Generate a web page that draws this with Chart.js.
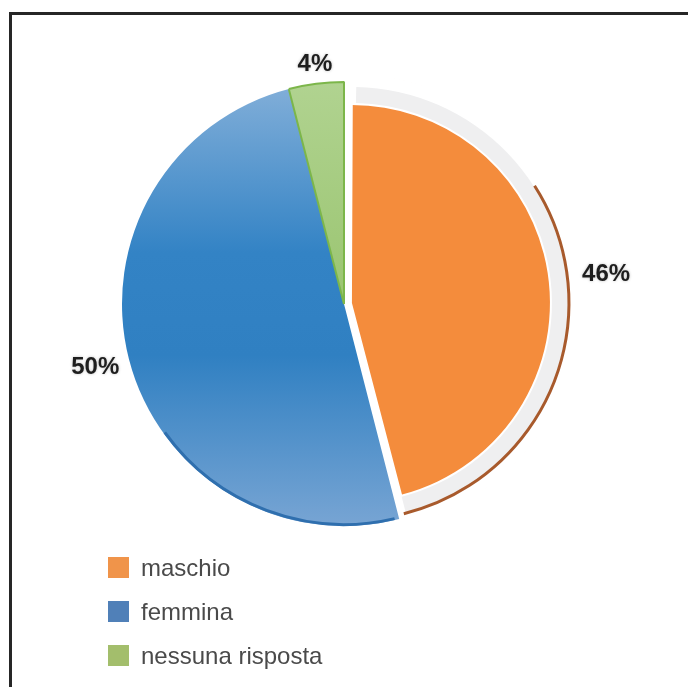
<!DOCTYPE html>
<html>
<head>
<meta charset="utf-8">
<script src="https://cdn.jsdelivr.net/npm/chart.js@4/dist/chart.umd.min.js"></script>
<style>
  body { margin: 0; background: #fff; width: 688px; height: 687px; overflow: hidden; position: relative; }
  #frame { position: absolute; left: 9px; top: 12px; width: 720px; height: 720px; border: 3px solid #262626; }
  #pie { position: absolute; left: 0; top: 0; }
  #legend { position: absolute; left: 108px; top: 557px; font-family: "Liberation Sans", Arial, sans-serif; font-size: 24px; color: #4a4a4a; }
  .item { display: flex; align-items: center; height: 21px; margin-bottom: 23px; }
  .swatch { width: 21px; height: 21px; margin-right: 12px; }
</style>
</head>
<body>
<div id="frame"></div>
<canvas id="pie" width="688" height="560"></canvas>
<div id="legend"></div>
<script>
const labels = ['maschio', 'femmina', 'nessuna risposta'];
const shares = [46, 50, 4];
const valueLabels = ['46%', '50%', '4%'];

const legendColors = ['#f0944a', '#5080b8', '#a3be6c'];

// per-slice fill: flat orange, shaded blue and green
function sliceFill(c) {
    const area = c.chart.chartArea;
    const i = c.dataIndex;
    if (i === 0) return '#f48c3c';
    if (!area) return i === 1 ? '#3a7fc0' : '#a8cd82';
    const ctx = c.chart.ctx;
    if (i === 1) {
        const g = ctx.createLinearGradient(0, area.top, 0, area.bottom);
        g.addColorStop(0, '#93b8dd');
        g.addColorStop(0.4, '#3383c5');
        g.addColorStop(0.6, '#3080c2');
        g.addColorStop(1, '#86acd7');
        return g;
    }
    const g = ctx.createLinearGradient(0, area.top, 0, area.top + 240);
    g.addColorStop(0, '#b4d595');
    g.addColorStop(1, '#9cc673');
    return g;
}

// rim around the pulled-out slice plus the percentage labels
const pieDecor = {
    id: 'pieDecor',
    afterDatasetsDraw(chart) {
        const ctx = chart.ctx;
        const arcs = chart.getDatasetMeta(0).data;

        // where Chart.js actually puts an offset arc
        function shifted(arc) {
            const off = (arc.options.offset || 0) / 4;
            const mid = (arc.startAngle + arc.endAngle) / 2;
            const fix = 1 - Math.sin(Math.min(Math.PI, arc.circumference));
            return {
                cx: arc.x + Math.cos(mid) * off,
                cy: arc.y + Math.sin(mid) * off,
                r: arc.outerRadius + off * fix,
                mid: mid
            };
        }

        // orange: light band with a brown outer lip
        const o = arcs[0];
        const s = shifted(o);
        const inner = s.r - 30;
        ctx.save();
        ctx.beginPath();
        ctx.arc(s.cx, s.cy, s.r + 1, o.startAngle, o.endAngle);
        ctx.arc(s.cx, s.cy, inner, o.endAngle, o.startAngle, true);
        ctx.closePath();
        ctx.fillStyle = '#ffffff';
        ctx.fill();

        ctx.beginPath();
        ctx.arc(s.cx, s.cy, inner + 18, o.startAngle + 0.02, o.endAngle);
        ctx.arc(s.cx, s.cy, inner + 2, o.endAngle, o.startAngle + 0.02, true);
        ctx.closePath();
        ctx.fillStyle = '#efeff0';
        ctx.fill();

        ctx.beginPath();
        ctx.arc(s.cx, s.cy, inner + 19, o.startAngle + 1.0, o.endAngle + 0.01);
        ctx.lineWidth = 3;
        ctx.strokeStyle = '#a85a2c';
        ctx.stroke();

        // darker lower edge on the blue slice
        const b = arcs[1];
        ctx.beginPath();
        ctx.arc(b.x, b.y, b.outerRadius - 1.5, b.startAngle + 0.02, b.startAngle + 1.2);
        ctx.lineWidth = 3;
        ctx.strokeStyle = '#2f6fae';
        ctx.stroke();
        ctx.restore();

        // percentage labels just outside each slice
        ctx.save();
        ctx.font = 'bold 24px "Liberation Sans", Arial, sans-serif';
        ctx.fillStyle = '#1e1e1e';
        ctx.shadowColor = 'rgba(0,0,0,0.25)';
        ctx.shadowBlur = 3;
        arcs.forEach((arc, i) => {
            const p = shifted(arc);
            const rr = arc.outerRadius + 10;
            const cos = Math.cos(p.mid), sin = Math.sin(p.mid);
            const x = p.cx + cos * rr, y = p.cy + sin * rr;
            if (Math.abs(cos) < 0.3) {
                ctx.textAlign = 'center';
                ctx.textBaseline = sin < 0 ? 'bottom' : 'top';
                ctx.fillText(valueLabels[i], x, y + 3);
            } else {
                ctx.textAlign = cos > 0 ? 'left' : 'right';
                ctx.textBaseline = 'middle';
                ctx.fillText(valueLabels[i], x, y + (cos > 0 ? 0 : 6));
            }
        });
        ctx.restore();
    }
};

const chart = new Chart(document.getElementById('pie'), {
    type: 'pie',
    data: {
        labels: labels,
        datasets: [{
            data: shares,
            backgroundColor: sliceFill,
            borderColor: ['#ffffff', '#3a7fc0', '#7cb64a'],
            borderWidth: [0, 0, 2],
            offset: [32, 0, 0]
        }]
    },
    options: {
        responsive: false,
        animation: false,
        devicePixelRatio: 1,
        radius: 222,
        layout: { padding: { top: 48 } },
        plugins: {
            legend: { display: false },
            tooltip: { enabled: false }
        }
    },
    plugins: [pieDecor]
});

// legend list built from the chart's own labels
const legend = document.getElementById('legend');
chart.data.labels.forEach((name, i) => {
    const row = document.createElement('div');
    row.className = 'item';
    row.innerHTML = `<span class="swatch" style="background:${legendColors[i]}"></span><span>${name}</span>`;
    legend.appendChild(row);
});
</script>
</body>
</html>
